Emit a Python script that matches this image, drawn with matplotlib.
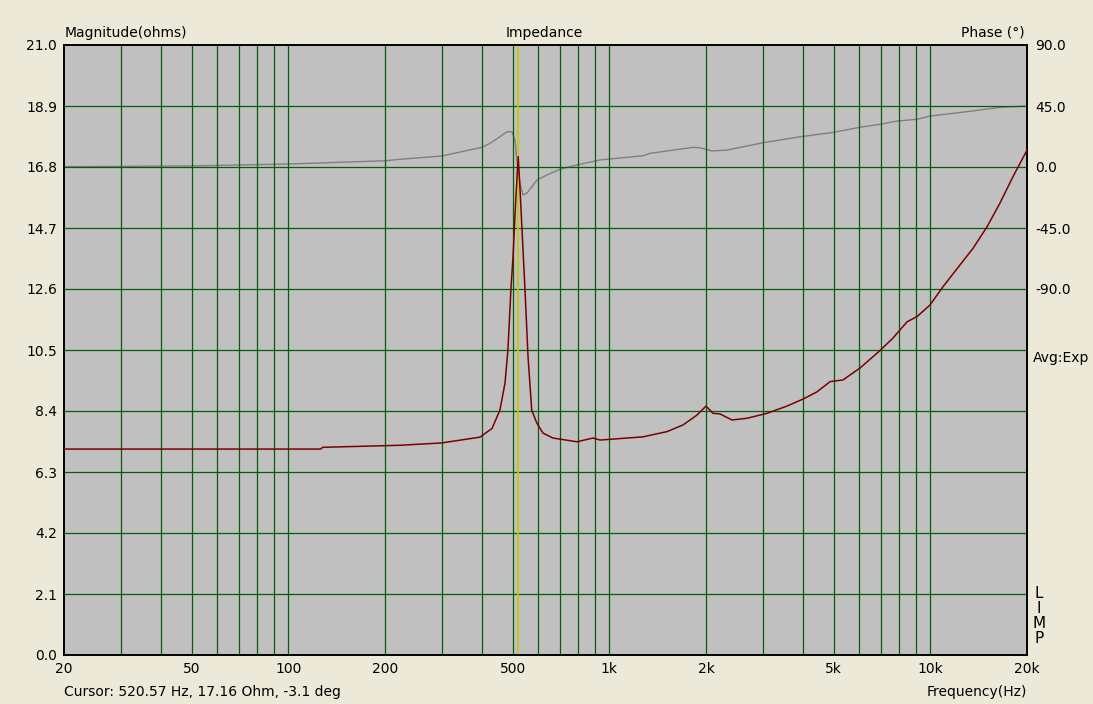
import matplotlib
matplotlib.use('Agg')
import matplotlib.pyplot as plt
import numpy as np

# magnitude curve (ohms)
freq_mag = [20, 60, 126, 128, 223, 300, 395, 401, 431, 456, 473, 483, 494, 501, 510,
            520, 527, 533, 546, 558, 573, 594, 621, 667, 793, 889, 935, 1273, 1512,
            1696, 1875, 2000, 2103, 2211, 2410, 2685, 3098, 3575, 4011, 4435, 4869,
            5345, 6037, 6966, 7645, 8458, 9087, 9975, 10950, 12370, 13580, 15010,
            16480, 18090, 20000]
mag = [7.09, 7.09, 7.09, 7.15, 7.22, 7.30, 7.50, 7.55, 7.80, 8.43, 9.36, 10.5, 12.67,
       13.7, 15.5, 17.16, 16.0, 14.9, 12.56, 10.26, 8.43, 7.99, 7.64, 7.47, 7.34, 7.47,
       7.40, 7.51, 7.69, 7.92, 8.26, 8.57, 8.32, 8.30, 8.09, 8.15, 8.32, 8.57, 8.81,
       9.06, 9.41, 9.47, 9.88, 10.48, 10.91, 11.47, 11.65, 12.05, 12.68, 13.43, 14.0,
       14.74, 15.56, 16.47, 17.38]

# phase curve (degrees)
freq_ph = [20, 50, 100, 200, 223, 300, 401, 425, 456, 480, 497, 508, 515, 527, 538,
           554, 595, 639, 702, 793, 935, 1273, 1338, 1822, 1915, 2088, 2325, 3010,
           3925, 4974, 6037, 6966, 7870, 9087, 9975, 13005, 16480, 20000]
phase = [0.2, 0.8, 2.2, 4.6, 5.7, 8.1, 14.5, 17.5, 22.3, 26.0, 26.0, 19.9, 5.2, -11.9,
         -20.6, -19.2, -9.6, -5.9, -1.7, 1.5, 5.2, 8.3, 10.1, 14.5, 14.2, 11.8, 12.5,
         17.9, 22.3, 25.5, 29.3, 31.5, 33.9, 35.2, 37.6, 40.8, 44.0, 45.0]

cursor_f = 520.57
mag_ticks = [0.0, 2.1, 4.2, 6.3, 8.4, 10.5, 12.6, 14.7, 16.8, 18.9, 21.0]
ph_ticks = [90, 45, 0, -45, -90]
f_ticks = [20, 50, 100, 200, 500, 1000, 2000, 5000, 10000, 20000]
f_labels = ['20', '50', '100', '200', '500', '1k', '2k', '5k', '10k', '20k']
f_grid = [30, 40, 50, 60, 70, 80, 90, 100, 200, 300, 400, 500, 600, 700, 800, 900,
          1000, 2000, 3000, 4000, 5000, 6000, 7000, 8000, 9000, 10000]

bg = '#ECE9D8'
grid_col = '#075a0e'
fs = 10
plt.rcParams['font.family'] = ['DejaVu Sans']

fig = plt.figure(figsize=(10.93, 7.04), dpi=100, facecolor=bg)
ax = fig.add_axes([64/1093, 49/704, 963/1093, 610/704])
ax.set_xscale('log')
ax.set_xlim(20, 20000)
ax.set_ylim(0, 21)

for f in f_grid:
    ax.axvline(f, color=grid_col, lw=0.9, zorder=1)
for m in mag_ticks[1:-1]:
    ax.axhline(m, color=grid_col, lw=0.9, zorder=1)

ax.set_xticks(f_ticks)
ax.set_xticklabels(f_labels)
ax.xaxis.set_minor_locator(matplotlib.ticker.NullLocator())
ax.set_yticks(mag_ticks)
ax.set_yticklabels(['%.1f' % v for v in mag_ticks])
ax.tick_params(length=0, labelsize=fs, pad=5)

ax2 = ax.twinx()
ax2.set_ylim(-360, 90)
ax2.set_yticks(ph_ticks)
ax2.set_yticklabels(['%.1f' % v for v in ph_ticks])
ax2.tick_params(length=0, labelsize=fs, pad=6)

ax2.plot(freq_ph, phase, color='#7f7f7f', lw=1.0, zorder=3)
ax.axvline(cursor_f, color='#c8c800', lw=1.2, zorder=2)
ax.plot(freq_mag, mag, color='#7a0000', lw=1.1, zorder=4)

# grey background on the lower axes, magnitude drawn on top
ax.patch.set_visible(False)
ax2.set_facecolor('#C0C0C0')
ax2.patch.set_visible(True)
ax.set_zorder(2)
ax2.set_zorder(1)

for a in (ax, ax2):
    for s in a.spines.values():
        s.set_color('black')
        s.set_linewidth(1.2)

fig.text(65/1093, 1 - 33/704, 'Magnitude(ohms)', fontsize=fs, ha='left', va='center')
fig.text(544/1093, 1 - 33/704, 'Impedance', fontsize=fs, ha='center', va='center')
fig.text(1025/1093, 1 - 33/704, 'Phase (°)', fontsize=fs, ha='right', va='center')
fig.text(64/1093, 1 - 692/704, 'Cursor: 520.57 Hz, 17.16 Ohm, -3.1 deg', fontsize=fs,
         ha='left', va='center')
fig.text(1027/1093, 1 - 692/704, 'Frequency(Hz)', fontsize=fs, ha='right', va='center')
fig.text(1033/1093, 1 - 358/704, 'Avg:Exp', fontsize=fs, ha='left', va='center')
for i, ch in enumerate('LIMP'):
    fig.text(1039/1093, 1 - (593 + 15.3 * i)/704, ch, fontsize=fs + 1, ha='center',
             va='center')

fig.savefig('out.png', dpi=100, facecolor=bg)
